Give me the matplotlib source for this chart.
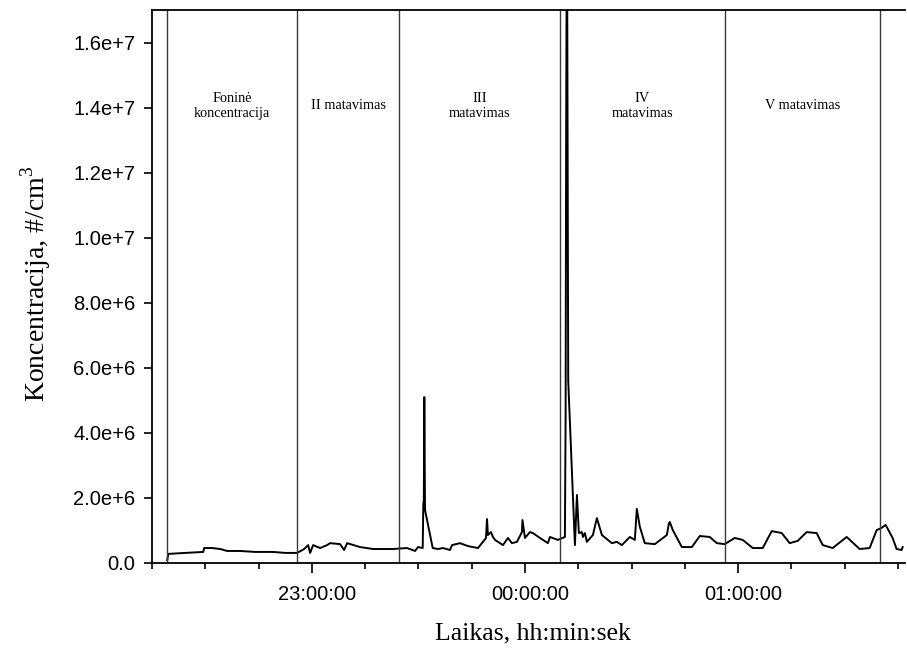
import pandas as pd
import matplotlib.pyplot as plt
import matplotlib.dates as mdates
from matplotlib.ticker import FuncFormatter
from matplotlib.transforms import ScaledTranslation

# Matavimo laikai ir koncentracijos (#/cm3)
laikas = [
    "22:19:18", "22:19:35", "22:24:22", "22:29:25", "22:29:42", "22:31:57",
    "22:34:12", "22:36:10", "22:39:50", "22:44:03", "22:49:07", "22:52:30",
    "22:55:52", "22:57:50", "22:58:58", "22:59:31", "23:00:22", "23:02:20",
    "23:04:18", "23:05:09", "23:07:57", "23:09:05", "23:09:56", "23:13:35",
    "23:17:15", "23:22:52", "23:26:49", "23:29:04", "23:29:54", "23:31:13",
    "23:31:23", "23:31:32", "23:31:40", "23:31:52", "23:34:02", "23:35:32",
    "23:36:56", "23:38:54", "23:39:28", "23:41:43", "23:43:58", "23:46:47",
    "23:49:02", "23:49:19", "23:49:35", "23:50:26", "23:51:00", "23:51:34",
    "23:53:49", "23:55:13", "23:56:20", "23:57:45", "23:59:09", "23:59:18",
    "00:00:00", "00:01:24", "00:02:15", "00:04:13", "00:06:28", "00:07:02",
    "00:09:17", "00:11:15", "00:11:27", "00:11:35", "00:11:49", "00:12:11",
    "00:14:04", "00:14:38", "00:15:11", "00:16:02", "00:16:19", "00:16:53",
    "00:17:26", "00:19:08", "00:20:15", "00:21:40", "00:24:28", "00:25:53",
    "00:27:17", "00:29:32", "00:30:56", "00:31:30", "00:32:21", "00:33:45",
    "00:36:34", "00:39:57", "00:40:30", "00:40:47", "00:41:38", "00:44:10",
    "00:46:59", "00:49:14", "00:52:02", "00:54:01", "00:56:15", "00:59:04",
    "01:01:19", "01:04:08", "01:06:57", "01:09:29", "01:12:18", "01:14:32",
    "01:16:47", "01:19:19", "01:22:08", "01:23:50", "01:26:38", "01:30:35",
    "01:34:14", "01:37:03", "01:39:01", "01:40:25", "01:41:33", "01:43:31",
    "01:44:38", "01:46:03", "01:46:20",
]
koncentracija = [
    0.09e6, 0.28e6, 0.31e6, 0.34e6, 0.46e6, 0.46e6,
    0.43e6, 0.37e6, 0.37e6, 0.34e6, 0.34e6, 0.31e6,
    0.31e6, 0.43e6, 0.55e6, 0.31e6, 0.55e6, 0.46e6,
    0.55e6, 0.61e6, 0.58e6, 0.40e6, 0.61e6, 0.49e6,
    0.43e6, 0.43e6, 0.46e6, 0.37e6, 0.49e6, 0.46e6,
    1.78e6, 1.94e6, 5.10e6, 1.63e6, 0.46e6, 0.43e6,
    0.46e6, 0.40e6, 0.55e6, 0.61e6, 0.52e6, 0.46e6,
    0.77e6, 1.35e6, 0.86e6, 0.95e6, 0.80e6, 0.71e6,
    0.55e6, 0.77e6, 0.61e6, 0.65e6, 0.95e6, 1.32e6,
    0.77e6, 0.95e6, 0.92e6, 0.77e6, 0.61e6, 0.80e6,
    0.71e6, 0.80e6, 4.61e6, 12.47e6, 21.0e6, 5.60e6,
    0.55e6, 2.09e6, 0.92e6, 0.95e6, 0.80e6, 0.92e6,
    0.65e6, 0.86e6, 1.38e6, 0.86e6, 0.61e6, 0.65e6,
    0.55e6, 0.80e6, 0.71e6, 1.66e6, 1.11e6, 0.61e6,
    0.58e6, 0.86e6, 1.20e6, 1.26e6, 1.01e6, 0.49e6,
    0.49e6, 0.83e6, 0.80e6, 0.61e6, 0.58e6, 0.77e6,
    0.71e6, 0.46e6, 0.46e6, 0.98e6, 0.92e6, 0.61e6,
    0.68e6, 0.95e6, 0.92e6, 0.55e6, 0.46e6, 0.80e6,
    0.43e6, 0.46e6, 1.01e6, 1.08e6, 1.17e6, 0.77e6,
    0.43e6, 0.40e6, 0.49e6,
]

# Matavimu ribos ir pavadinimai
ribos = ["22:19:18", "22:55:52", "23:24:35", "00:09:51", "00:56:16", "01:39:52"]
etapai = ["Foninė\nkoncentracija", "II matavimas", "III\nmatavimas",
          "IV\nmatavimas", "V matavimas"]

y_ticks = [0, 2e6, 4e6, 6e6, 8e6, 10e6, 12e6, 14e6, 16e6]


def to_time(s):
    # laikai po vidurnakcio priklauso kitai parai
    t = pd.Timestamp("2000-01-01 " + s)
    if t.hour < 12:
        t += pd.Timedelta(days=1)
    return t


def sci_fmt(v, pos):
    if v == 0:
        return "0.0"
    e = len(str(int(round(v)))) - 1
    return f"{v / 10**e:.1f}e+{e}"


t = [to_time(s) for s in laikas]
rb = [to_time(s) for s in ribos]

plt.rcParams['mathtext.fontset'] = 'custom'
plt.rcParams['mathtext.rm'] = 'Liberation Serif'

fig = plt.figure(figsize=(9.07, 6.57), dpi=100)
ax = fig.add_axes([152 / 907, 94 / 657, 753 / 907, 553 / 657])

ax.plot(t, koncentracija, color='black', lw=1.4)
for r in rb:
    ax.axvline(r, color='#3a3a3a', lw=1.0)

for i, txt in enumerate(etapai):
    mid = rb[i] + (rb[i + 1] - rb[i]) / 2
    ax.text(mid, 14.05e6, txt, ha='center', va='center', fontsize=10.3,
            family='Liberation Serif', linespacing=1.25)

ax.set_xlim(to_time("22:15:00"), to_time("01:47:00"))
ax.set_ylim(0, 1.7e7)
ax.set_yticks(y_ticks)
ax.yaxis.set_major_formatter(FuncFormatter(sci_fmt))

ax.xaxis.set_major_locator(mdates.HourLocator())
ax.xaxis.set_minor_locator(mdates.MinuteLocator(byminute=[15, 30, 45]))
ax.xaxis.set_major_formatter(mdates.DateFormatter('%H:%M:%S'))

ax.tick_params(axis='both', which='major', labelsize=14.5, width=1.2,
               length=6, direction='out')
ax.tick_params(axis='y', pad=6)
ax.tick_params(axis='x', which='major', length=7, pad=9)
ax.tick_params(axis='x', which='minor', length=4, width=1.2)
for lbl in ax.get_yticklabels():
    lbl.set_family('Liberation Sans')
# laiko uzrasai truputi pastumti i desine
shift = ScaledTranslation(5 / 100, 0, fig.dpi_scale_trans)
for lbl in ax.get_xticklabels():
    lbl.set_family('Liberation Sans')
    lbl.set_transform(lbl.get_transform() + shift)

ax.spines['right'].set_visible(False)
for s in ['left', 'bottom', 'top']:
    ax.spines[s].set_linewidth(1.3)

fig.text(36 / 907, 1 - 284 / 657, r'Koncentracija, #/cm$^\mathrm{3}$',
         rotation=90, ha='center', va='center', fontsize=20,
         family='Liberation Serif')
fig.text(533 / 907, 1 - 633 / 657, 'Laikas, hh:min:sek', ha='center',
         va='center', fontsize=18.5, family='Liberation Serif')

fig.savefig('out.png', dpi=100)
